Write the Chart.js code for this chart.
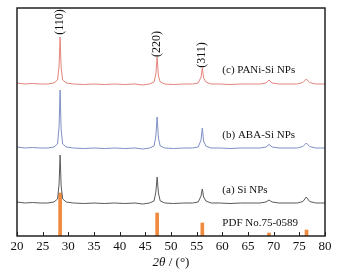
<!DOCTYPE html>
<html>
<head>
<meta charset="utf-8">
<script src="https://cdn.jsdelivr.net/npm/chart.js@4/dist/chart.umd.min.js"></script>
<style>
  html,body{margin:0;padding:0;background:#fff;}
  #wrap{width:344px;height:273px;}
</style>
</head>
<body>
<div id="wrap"><canvas id="xrd" width="344" height="273"></canvas></div>
<script>
// 2θ sample positions shared by the three patterns
const angles = [20,21.5,23,24.5,26,27.2,27.9,28.2,28.4,28.6,28.9,29.6,31,33,35,37,39,41,43,44.5,
  45.8,46.7,47.05,47.3,47.55,47.9,48.8,50.5,52.5,54.2,55.3,55.85,56.1,56.35,56.8,57.8,59.5,61.5,
  63.5,65.5,67.3,68.5,69.1,69.7,71,72.8,74.6,75.7,76.35,77.0,78.2,80];

// stacked intensities (arbitrary units, offsets included)
const paniSi = [153,152,152.5,152,152,153,156,170,199,168,156,153,152,151.5,152,151.5,152,151.5,152,151,
  152,154,162,179,160,154,152,151.5,152,152,153,159,168,158,154,152,152,151.5,
  152,152,152,153,156,153,152,152,152,153.5,157,153.5,152,152];
const abaSi = [89,88,88.5,88,88,89,92,110,146,106,92,89,88,87.5,88,87.5,88,87.5,88,87,
  88,90,100,119,98,90,88,87.5,88,88,89,96,108,95,90,88,88,87.5,
  88,88,88,89,91.5,89,88,88,88,89.5,93,89.5,88,88];
const siNps = [34,33,33.5,33,33,34,37,52,81,50,37,34,33,32.5,33,32.5,33,32.5,33,32,
  33,35,44,59,43,35,33,32.5,33,33,34,40,47,39,35,33,33,32.5,
  33,33,33,34,36,34,33,33,33,34.5,39,34.5,33,33];

// reference card PDF No.75-0589
const pdfAngles = [28.4,47.3,56.1,69.1,76.4];
const pdfIntensity = [43,23,13,3,6];

const xTicks = [20,25,30,35,40,45,50,55,60,65,70,75,80];

const peakLabels = ["(110)","(220)","(311)"];
const peakAt = [[28.4,214],[47.3,192],[56.1,181]];
const seriesLabels = ["(c) PANi-Si NPs","(b) ABA-Si NPs","(a) Si NPs","PDF No.75-0589"];
const seriesLabelAt = [[60,166],[60,101],[60,46],[60,13]];

const serif = "'Liberation Serif','DejaVu Serif',serif";
const pts = ys => angles.map((a,i) => ({x:a, y:ys[i]}));

const decor = {
  id:"decor",
  afterDraw(chart){
    const {ctx, chartArea:ca, scales:{x, y}} = chart;
    ctx.save();
    // frame
    ctx.strokeStyle = "#222";
    ctx.lineWidth = 1.5;
    ctx.strokeRect(ca.left, ca.top, ca.right-ca.left, ca.bottom-ca.top);
    // inward ticks
    ctx.lineWidth = 1;
    xTicks.forEach(t => {
      const px = Math.round(x.getPixelForValue(t)) + 0.5;
      ctx.beginPath(); ctx.moveTo(px, ca.bottom); ctx.lineTo(px, ca.bottom-4); ctx.stroke();
    });
    // tick labels
    ctx.fillStyle = "#111";
    ctx.font = "13px " + serif;
    ctx.textAlign = "center"; ctx.textBaseline = "middle";
    xTicks.forEach(t => ctx.fillText(String(t), x.getPixelForValue(t), ca.bottom+11));
    // axis title: italic 2θ then " / (°)"
    const a = "2θ", b = " / (°)";
    ctx.font = "italic 13px " + serif; const wa = ctx.measureText(a).width;
    ctx.font = "13px " + serif; const wb = ctx.measureText(b).width;
    const cx = (ca.left+ca.right)/2, x0 = cx - (wa+wb)/2, ty = ca.bottom+27;
    ctx.textAlign = "left";
    ctx.font = "italic 13px " + serif; ctx.fillText(a, x0, ty);
    ctx.font = "13px " + serif; ctx.fillText(b, x0+wa, ty);
    // series labels
    ctx.font = "11px " + serif;
    seriesLabels.forEach((s,i) => {
      ctx.fillText(s, x.getPixelForValue(seriesLabelAt[i][0]), y.getPixelForValue(seriesLabelAt[i][1]));
    });
    // peak (hkl) labels, rotated
    ctx.textAlign = "center";
    ctx.font = "12px " + serif;
    peakLabels.forEach((s,i) => {
      ctx.save();
      ctx.translate(x.getPixelForValue(peakAt[i][0]), y.getPixelForValue(peakAt[i][1]));
      ctx.rotate(-Math.PI/2);
      ctx.fillText(s, 0, 0);
      ctx.restore();
    });
    ctx.restore();
  }
};

const lineDs = (data, color) => ({
  type:"line", data:pts(data), borderColor:color, borderWidth:1,
  pointRadius:0, tension:0, fill:false
});

new Chart(document.getElementById("xrd"), {
  data:{
    datasets:[
      lineDs(paniSi, "#e2857c"),
      lineDs(abaSi, "#7f8fc4"),
      lineDs(siNps, "#5a5a5a"),
      {
        type:"bar",
        data:pdfAngles.map((a,i) => ({x:a, y:pdfIntensity[i]})),
        backgroundColor:"#f08a3e",
        barThickness:3,
        borderWidth:0
      }
    ]
  },
  options:{
    responsive:false,
    animation:false,
    layout:{padding:{left:17, right:19, top:8, bottom:0}},
    plugins:{legend:{display:false}, tooltip:{enabled:false}},
    scales:{
      x:{
        type:"linear", min:20, max:80, offset:false,
        grid:{display:false, drawTicks:false, offset:false},
        border:{display:false},
        ticks:{display:false},
        afterFit(s){ s.height = 37; }
      },
      y:{
        display:false, min:0, max:228
      }
    }
  },
  plugins:[decor]
});
</script>
</body>
</html>
